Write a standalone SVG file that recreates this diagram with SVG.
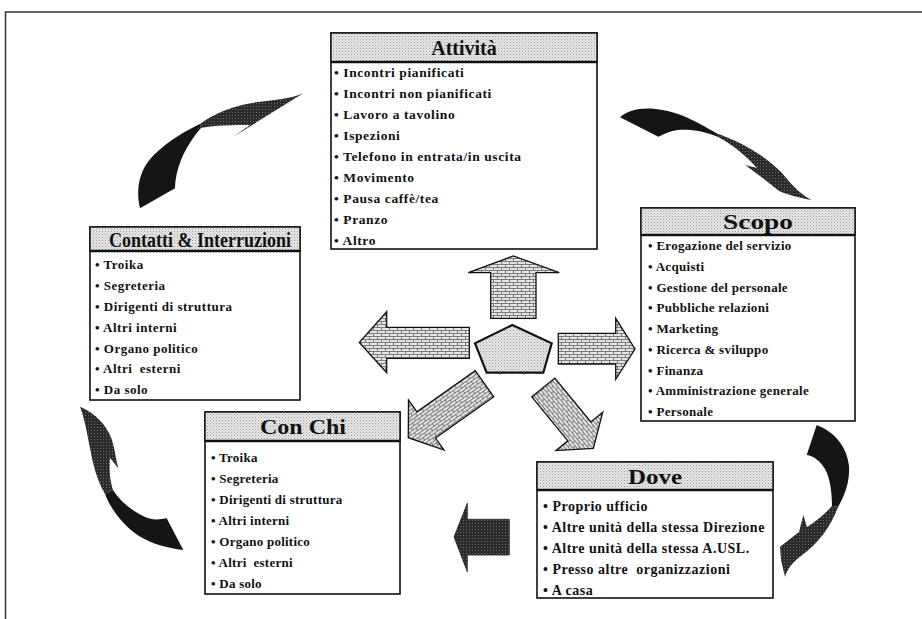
<svg xmlns="http://www.w3.org/2000/svg" width="922" height="619" viewBox="0 0 922 619">
<defs>
<pattern id="brick" width="8" height="6" patternUnits="userSpaceOnUse">
<rect width="8" height="6" fill="#e4e4e4"/>
<path d="M0 0.5H8M0 3.5H8M1.5 0.5V3.5M5.5 3.5V6.5" stroke="#555" stroke-width="0.7" fill="none"/>
</pattern>
<pattern id="dots" width="3" height="3" patternUnits="userSpaceOnUse">
<rect width="3" height="3" fill="#e8e8e8"/>
<rect x="0" y="0" width="1" height="1" fill="#9a9a9a"/>
<rect x="1.5" y="1.5" width="1" height="1" fill="#b0b0b0"/>
</pattern>
<pattern id="dark" width="3" height="3" patternUnits="userSpaceOnUse">
<rect width="3" height="3" fill="#2b2b2b"/>
<rect x="1" y="1" width="1" height="1" fill="#6e6e6e"/>
</pattern>
<style>
.body{fill:#fff;stroke:#111;stroke-width:1.6}
.head{fill:url(#dots);stroke:#111;stroke-width:1.4}
.hline{stroke:#111;stroke-width:2.4}
.title{font-family:"Liberation Serif","Times New Roman",serif;font-weight:bold;font-size:20px;fill:#111;text-anchor:middle}
.item{font-family:"Liberation Serif","Times New Roman",serif;font-weight:bold;font-size:13px;fill:#111;letter-spacing:0.3px}
.blk{fill:url(#brick);stroke:#111;stroke-width:1.3;stroke-linejoin:miter}
.tail{fill:#151515}
.tip{fill:url(#dark)}
</style>
</defs>
<path d="M5.5 619V12H922" fill="none" stroke="#333" stroke-width="1.5"/>

<g id="attivita">
<rect class="body" x="331" y="33" width="266" height="216"/>
<rect class="head" x="331" y="33" width="266" height="29"/>
<line class="hline" x1="331" y1="62" x2="597" y2="62"/>
<text class="title" x="464" y="55">Attività</text>
<g class="item" style="font-size:13.5px;letter-spacing:0.6px">
<text x="334" y="77">• Incontri pianificati</text>
<text x="334" y="98">• Incontri non pianificati</text>
<text x="334" y="119">• Lavoro a tavolino</text>
<text x="334" y="140">• Ispezioni</text>
<text x="334" y="161">• Telefono in entrata/in uscita</text>
<text x="334" y="182">• Movimento</text>
<text x="334" y="203">• Pausa caffè/tea</text>
<text x="334" y="224">• Pranzo</text>
<text x="334" y="244.5">• Altro</text>
</g>
</g>

<g id="scopo">
<rect class="body" x="641" y="208" width="214" height="213"/>
<rect class="head" x="641" y="208" width="214" height="27"/>
<line class="hline" x1="641" y1="235" x2="855" y2="235"/>
<text class="title" x="758" y="229" textLength="70" lengthAdjust="spacingAndGlyphs">Scopo</text>
<g class="item">
<text x="648" y="250">• Erogazione del servizio</text>
<text x="648" y="270.7">• Acquisti</text>
<text x="648" y="291.5">• Gestione del personale</text>
<text x="648" y="312.2">• Pubbliche relazioni</text>
<text x="648" y="333">• Marketing</text>
<text x="648" y="353.7">• Ricerca &amp; sviluppo</text>
<text x="648" y="374.5">• Finanza</text>
<text x="648" y="395.2">• Amministrazione generale</text>
<text x="648" y="416">• Personale</text>
</g>
</g>

<g id="contatti">
<rect class="body" x="90" y="227" width="210" height="173"/>
<rect class="head" x="90" y="227" width="210" height="24"/>
<line class="hline" x1="90" y1="251" x2="300" y2="251"/>
<text class="title" x="200" y="247" textLength="182" lengthAdjust="spacingAndGlyphs">Contatti &amp; Interruzioni</text>
<g class="item" style="letter-spacing:0.5px">
<text x="95" y="269">• Troika</text>
<text x="95" y="290">• Segreteria</text>
<text x="95" y="311">• Dirigenti di struttura</text>
<text x="95" y="331.5">• Altri interni</text>
<text x="95" y="352.5">• Organo politico</text>
<text x="95" y="372.5" xml:space="preserve">• Altri  esterni</text>
<text x="95" y="393.5">• Da solo</text>
</g>
</g>

<g id="conchi">
<rect class="body" x="205" y="412" width="195" height="182"/>
<rect class="head" x="205" y="412" width="195" height="29"/>
<line class="hline" x1="205" y1="441" x2="400" y2="441"/>
<text class="title" x="303" y="434" style="font-size:22px" textLength="86" lengthAdjust="spacingAndGlyphs">Con Chi</text>
<g class="item" style="letter-spacing:0.25px">
<text x="211" y="461.5">• Troika</text>
<text x="211" y="482.5">• Segreteria</text>
<text x="211" y="503.5">• Dirigenti di struttura</text>
<text x="211" y="524.5">• Altri interni</text>
<text x="211" y="545.5">• Organo politico</text>
<text x="211" y="566.5" xml:space="preserve">• Altri  esterni</text>
<text x="211" y="587.5">• Da solo</text>
</g>
</g>

<g id="dove">
<rect class="body" x="537" y="462" width="236" height="136"/>
<rect class="head" x="537" y="462" width="236" height="28"/>
<line class="hline" x1="537" y1="490" x2="773" y2="490"/>
<text class="title" x="655" y="484" textLength="54" lengthAdjust="spacingAndGlyphs">Dove</text>
<g class="item" style="font-size:14px;letter-spacing:0.5px">
<text x="543" y="510.5">• Proprio ufficio</text>
<text x="543" y="531.5">• Altre unità della stessa Direzione</text>
<text x="543" y="552.5">• Altre unità della stessa A.USL.</text>
<text x="543" y="573.5" xml:space="preserve">• Presso altre  organizzazioni</text>
<text x="543" y="594.5">• A casa</text>
</g>
</g>

<g id="centro">
<polygon points="512.3,325 551.7,343.3 543.3,372.7 486.7,372.7 475,343.3" fill="url(#dots)" stroke="#111" stroke-width="2.2" stroke-linejoin="miter"/>
</g>

<g id="connectors">
<polygon class="blk" points="490.7,318.3 490.7,272.7 468.3,272.7 513.3,256 559.3,272.7 536,272.7 536,318.3"/>
<polygon class="blk" points="469.3,327.3 386.7,327.3 386.7,311.7 359.3,342.5 386.7,372.7 386.7,358.3 469.3,358.3"/>
<polygon class="blk" points="558.3,333.3 615.7,333.3 615.7,318.3 635,349 615.7,379.3 615.7,364 558.3,364"/>
<path class="blk" transform="translate(484.5,383.7) rotate(144.7)" d="M0-16H71.4V-30.7L93.4 0L71.4 30.7V16H0Z"/>
<path class="blk" transform="translate(543.3,387.5) rotate(50.6)" d="M0-14.9H56.8V-30.2L78.8 0L56.8 30.2V14.9H0Z"/>
<polygon fill="url(#dark)" stroke="#222" stroke-width="0.8" points="509.3,519.3 467.3,519.3 467.3,503.3 454,537 467.3,571.7 467.3,555 509.3,555"/>

<path class="tail" d="M140,208.3 C135,185 141,166 157,152 C170,140 185,131 200,124 L201,128 C193,137 186,148 181,160 C177,170 175,180 175,188.3 Z"/>
<path class="tip" d="M200,124 C215,113 235,105 258,102 C275,100 290,99 303.3,93.3 L233.3,136.7 L250,125 C235,125 215,125 201,128 Z"/>

<path class="tail" d="M620,117.3 C632,106 656,106 681,115 C696,121 707,128 717,133.5 L719,137.5 C705,131 690,129 678,130 C670,131 664,134 658.3,136.7 Z"/>
<path class="tip" d="M717,133.5 C741,142 764,155 780,171 C790,182 798,193 811.7,200 C800,198 788,195 779,191 L760,176 L745,165 L757,168 C748,158 735,146 719,137.5 Z"/>

<path class="tail" d="M816.7,425 C835,432 847,447 849,466 C850,481 845,495 838,507 L832,506 C832,492 830,478 825,469 C820,461 814,456 806.7,455 Z"/>
<path class="tip" d="M838,507 C831,526 819,543 801,556 C793,562 787,569 785,577 L781,560 L780,546.7 L799,532 L803.3,515 L807,527 C815,522 824,515 832,506 Z"/>

<path class="tip" d="M80,406.7 C95,413 107,425 112,440 C115,450 116,460 118.3,468.3 L110,458 C109,470 110,481 113,490 L105,494 C97,480 93,465 90,448 C87,433 85,420 80,406.7 Z"/>
<path class="tail" d="M105,494 C111,510 124,526 139,536 C152,544 167,548 183.3,550 L166.7,518.3 C158,520 150,520 143,516 C131,510 120,501 113,490 Z"/>
</g>
</svg>
